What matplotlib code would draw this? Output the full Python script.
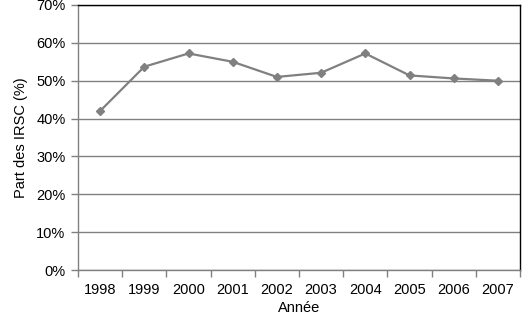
import matplotlib
matplotlib.use("Agg")
import matplotlib.pyplot as plt
from matplotlib.ticker import FixedLocator, FuncFormatter

years = ["1998", "1999", "2000", "2001", "2002", "2003", "2004", "2005", "2006", "2007"]
share = [42.0, 53.7, 57.2, 55.0, 51.0, 52.1, 57.2, 51.4, 50.6, 50.0]
yticks = [0, 10, 20, 30, 40, 50, 60, 70]

plt.rcParams['font.family'] = ['Liberation Sans', 'DejaVu Sans']

fig = plt.figure(figsize=(5.3, 3.2), dpi=100)
ax = fig.add_axes([78/530, 50/320, 442/530, 265/320])

x = list(range(len(years)))
ax.plot(x, share, color='#808080', lw=1.6, marker='D', ms=4.5,
        markerfacecolor='#808080', markeredgecolor='#808080', zorder=3)

ax.set_xlim(-0.5, len(years) - 0.5)
ax.set_ylim(0, 70)
ax.set_yticks(yticks)
ax.yaxis.set_major_formatter(FuncFormatter(lambda v, p: f"{int(v)}%"))
ax.grid(axis='y', color='#808080', lw=1.0)
ax.set_axisbelow(True)

# category ticks at boundaries, labels at centers
ax.xaxis.set_major_locator(FixedLocator([i - 0.5 for i in range(len(years) + 1)]))
ax.xaxis.set_major_formatter(FuncFormatter(lambda v, p: ""))
ax.xaxis.set_minor_locator(FixedLocator(x))
ax.set_xticklabels(years, minor=True)
ax.tick_params(axis='x', which='minor', length=0, pad=9, labelsize=10.5, colors='black')
ax.tick_params(axis='x', which='major', length=5, color='#808080', width=1)
ax.tick_params(axis='y', length=5, color='#808080', width=1, labelsize=10.5, pad=4)

for s in ['left', 'bottom']:
    ax.spines[s].set_color('#808080')
    ax.spines[s].set_linewidth(1)
for s in ['top', 'right']:
    ax.spines[s].set_color('black')
    ax.spines[s].set_linewidth(1)

ax.set_xlabel("Année", fontsize=10.5, labelpad=3)
ax.set_ylabel("Part des IRSC (%)", fontsize=10.5, labelpad=6)

fig.savefig("out.png", dpi=100)
